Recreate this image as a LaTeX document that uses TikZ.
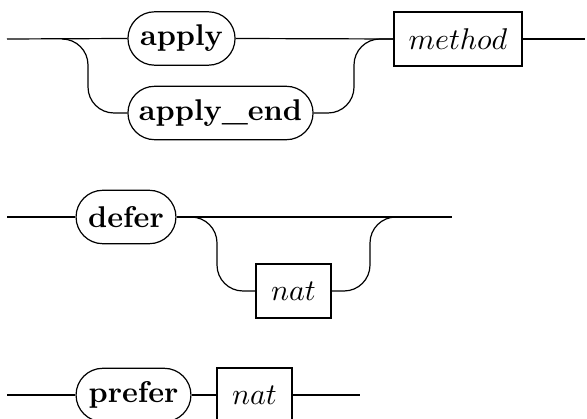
\documentclass[tikz,border=0pt]{standalone}
\usetikzlibrary{positioning}
\begin{document}
\begin{tikzpicture}[x={(0.33333pt,0)},y={(0,-0.33333pt)},
  term/.style={draw,rectangle,rounded corners=8.9pt,minimum height=17.8pt,inner sep=0pt,font=\bfseries},
  nonterm/.style={draw,rectangle,minimum height=18pt,inner sep=0pt},
  rail/.style={line width=0.4pt},
  branch/.style={rail,rounded corners=8.67pt}]
\useasboundingbox (0,0) rectangle (587,419);
% ---------- diagram 1 ----------
\coordinate (s1) at (7,39);
\node[term,minimum width=35.7pt] (apply) at (181.5,38.5) {apply};
\node[term,minimum width=61.7pt] (applyend) at (220.5,113) {apply\_end};
\node[nonterm,minimum width=42.7pt] (method) at (458,39) {$method$};
\coordinate (e1) at (585,39);
\coordinate (f1) at (62,39);
\coordinate (c1a) at (88,39);
\coordinate (c1b) at (88,113);
\coordinate (c1c) at (354,113);
\coordinate (c1d) at (354,39);
\coordinate (m1) at (394,39);
\draw[rail] (s1) -- (apply.west);
\draw[rail] (apply.east) -- (method.west);
\draw[rail] (method.east) -- (e1);
\draw[branch] (f1) -- (c1a) -- (c1b) -- (applyend.west);
\draw[branch] (applyend.east) -- (c1c) -- (c1d) -- (m1);
% ---------- diagram 2 ----------
\coordinate (s2) at (7,217);
\node[term,minimum width=33.3pt] (defer) at (126,217) {defer};
\node[nonterm,minimum width=25pt] (nat1) at (293.5,291) {$nat$};
\coordinate (e2) at (452,217);
\coordinate (f2) at (191,217);
\coordinate (c2a) at (217,217);
\coordinate (c2b) at (217,291);
\coordinate (c2c) at (370,291);
\coordinate (c2d) at (370,217);
\coordinate (m2) at (397,217);
\draw[rail] (s2) -- (defer.west);
\draw[rail] (defer.east) -- (e2);
\draw[branch] (f2) -- (c2a) -- (c2b) -- (nat1.west);
\draw[branch] (nat1.east) -- (c2c) -- (c2d) -- (m2);
% ---------- diagram 3 ----------
\coordinate (s3) at (7,395);
\node[term,minimum width=38.3pt] (prefer) at (133.5,395) {prefer};
\node[nonterm,minimum width=25pt] (nat2) at (254.5,395) {$nat$};
\coordinate (e3) at (360,395);
\draw[rail] (s3) -- (prefer.west);
\draw[rail] (prefer.east) -- (nat2.west);
\draw[rail] (nat2.east) -- (e3);
\end{tikzpicture}
\end{document}
